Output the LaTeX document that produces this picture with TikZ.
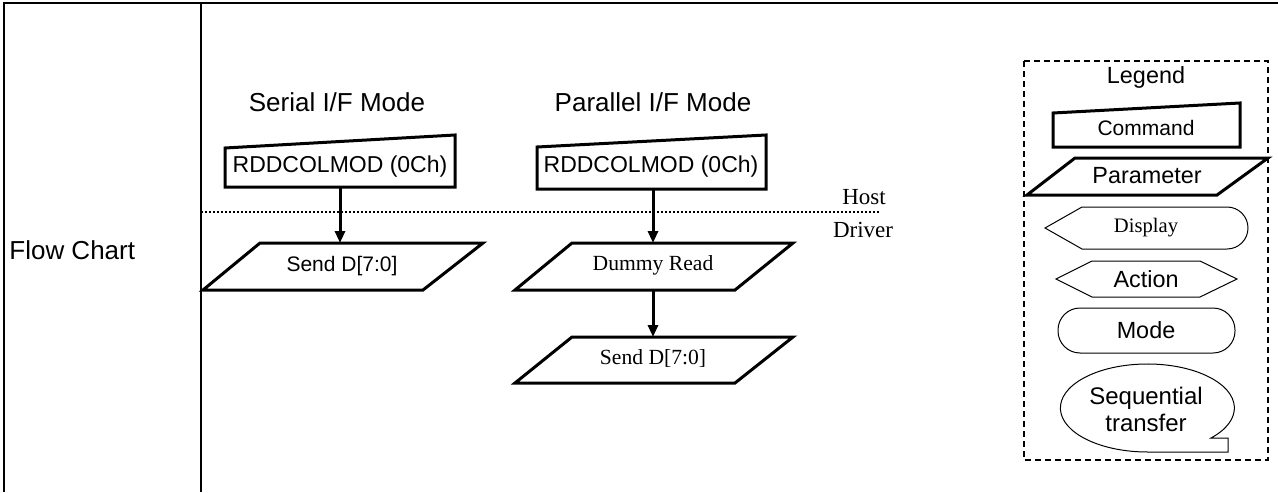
\documentclass[tikz,border=0pt]{standalone}
\usepackage{fontspec}
\setmainfont{Liberation Sans}
\newfontfamily\timesfont{Liberation Serif}
\usetikzlibrary{arrows.meta}

\begin{document}
\begin{tikzpicture}[
		x=0.5pt, y=-0.5pt,
		frameline/.style={line width=1pt},
		cmdbox/.style={draw, line width=1.5pt},
		parbox/.style={draw, line width=1.5pt},
		thinbox/.style={draw, line width=0.5pt},
		flow/.style={-{Triangle[length=6pt,width=5pt]}, line width=1.5pt},
		titletext/.style={font=\fontsize{13}{15}\selectfont},
		cmdtext/.style={font=\fontsize{11.5}{13}\selectfont},
		partext/.style={font=\fontsize{10.5}{12}\selectfont},
		legtext/.style={font=\fontsize{11.7}{13.5}\selectfont},
		serif/.style={font=\timesfont\fontsize{10.8}{12}\selectfont},
		sidetext/.style={font=\timesfont\fontsize{11.5}{13}\selectfont}
		]
		\useasboundingbox (0,0) rectangle (1278,492);
		% table frame
		\draw[frameline] (4,492) -- (4,3) -- (1278,3);
		\draw[frameline] (201,3) -- (201,492);
		\node[titletext, anchor=west, inner sep=0pt] (flowchart) at (9,250) {Flow Chart};
		% host / driver border
		\draw[line width=0.7pt, dash pattern=on 0.8pt off 1.2pt] (201,212) -- (880,212);
		\node[sidetext] (host) at (864,197) {Host};
		\node[sidetext] (driver) at (863,230) {Driver};
		% serial mode
		\node[titletext] (serialtitle) at (337,102) {Serial I/F Mode};
		\draw[cmdbox] (225,148) -- (455,135) -- (455,187) -- (225,187) -- cycle;
		\node[cmdtext] (serialcmd) at (340,167) {RDDCOLMOD (0Ch)};
		\draw[parbox] (260,243) -- (483,243) -- (423,290) -- (203,290) -- cycle;
		\node[partext] (serialsend) at (342,266) {Send D[7:0]};
		\coordinate (serialcmdbot) at (340,187);
		\coordinate (serialsendtop) at (340,243);
		\draw[flow] (serialcmdbot) -- (serialsendtop);
		% parallel mode
		\node[titletext] (paralleltitle) at (653,102) {Parallel I/F Mode};
		\draw[cmdbox] (537,147) -- (766,135) -- (766,189) -- (537,189) -- cycle;
		\node[cmdtext] (parallelcmd) at (651,167) {RDDCOLMOD (0Ch)};
		\draw[parbox] (572,243) -- (793,243) -- (735,290) -- (515,290) -- cycle;
		\node[serif] (dummy) at (653,265) {Dummy Read};
		\draw[parbox] (572,337) -- (793,337) -- (735,383) -- (515,383) -- cycle;
		\node[serif] (parallelsend) at (653,358) {Send D[7:0]};
		\coordinate (parallelcmdbot) at (653,189);
		\coordinate (dummytop) at (653,243);
		\coordinate (dummybot) at (653,290);
		\coordinate (parallelsendtop) at (653,337);
		\draw[flow] (parallelcmdbot) -- (dummytop);
		\draw[flow] (dummybot) -- (parallelsendtop);
		% legend
		\draw[line width=0.6pt, dash pattern=on 3pt off 2pt] (1024,61) rectangle (1268,460);
		\node[legtext] (legend) at (1146,77) {Legend};
		\draw[cmdbox] (1053,113) -- (1240,103) -- (1240,147) -- (1053,147) -- cycle;
		\node[font=\fontsize{10.5}{12}\selectfont] (legcmd) at (1146,128) {Command};
		\draw[parbox] (1075,158) -- (1268,158) -- (1217,195) -- (1027,195) -- cycle;
		\node[legtext] (legpar) at (1147,176) {Parameter};
		\draw[thinbox] (1045,228) -- (1082,207) -- (1227,207)
			arc[start angle=-90, end angle=90, radius=21] -- (1082,249) -- cycle;
		\node[font=\timesfont\fontsize{10.3}{12}\selectfont] (legdisp) at (1146,228) {Display};
		\draw[thinbox] (1056,279) -- (1092,261) -- (1200,261) -- (1237,279)
			-- (1200,297) -- (1092,297) -- cycle;
		\node[legtext] (legaction) at (1146,279) {Action};
		\draw[thinbox, rounded corners=11pt] (1058,308) rectangle (1235,353);
		\node[legtext] (legmode) at (1146,330) {Mode};
		\draw[thinbox] (1147,452) -- (1228,452) -- (1228,438) -- (1211,438)
			arc[start angle=43, end angle=-270, x radius=87, y radius=44] -- cycle;
		\node[font=\fontsize{12}{13.5}\selectfont, align=center] (legseq) at (1146,409) {Sequential\\transfer};
	\end{tikzpicture}
\end{document}
